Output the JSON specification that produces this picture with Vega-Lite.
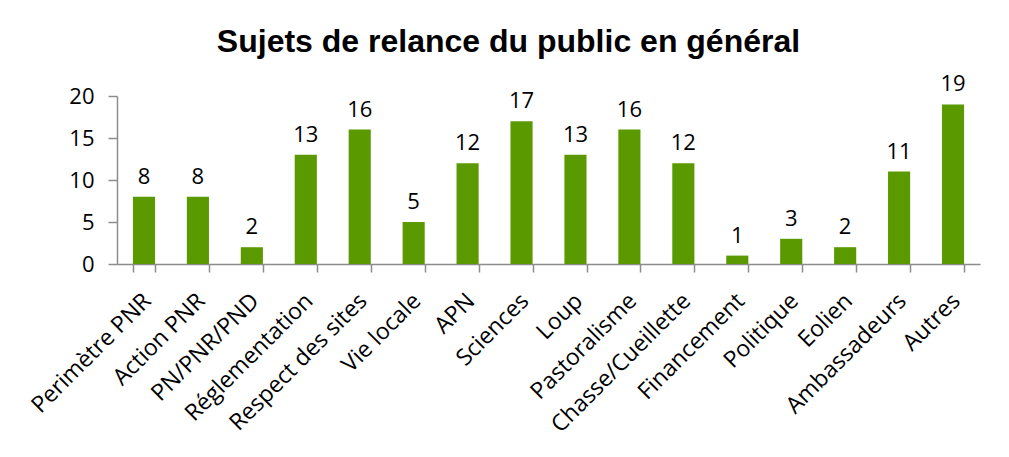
{
  "$schema": "https://vega.github.io/schema/vega-lite/v6.json",
  "autosize": "none",
  "width": 863,
  "height": 168,
  "padding": {"left": 117, "top": 96, "right": 29, "bottom": 193},
  "background": "white",
  "title": {
    "text": "Sujets de relance du public en général",
    "font": "Liberation Sans",
    "fontSize": 32,
    "fontWeight": "bold",
    "color": "black",
    "anchor": "middle",
    "dx": -40,
    "offset": 14
  },
  "data": {
    "values": [
      {"sujet": "Perimètre PNR", "n": 8},
      {"sujet": "Action PNR", "n": 8},
      {"sujet": "PN/PNR/PND", "n": 2},
      {"sujet": "Réglementation", "n": 13},
      {"sujet": "Respect des sites", "n": 16},
      {"sujet": "Vie locale", "n": 5},
      {"sujet": "APN", "n": 12},
      {"sujet": "Sciences", "n": 17},
      {"sujet": "Loup", "n": 13},
      {"sujet": "Pastoralisme", "n": 16},
      {"sujet": "Chasse/Cueillette", "n": 12},
      {"sujet": "Financement", "n": 1},
      {"sujet": "Politique", "n": 3},
      {"sujet": "Eolien", "n": 2},
      {"sujet": "Ambassadeurs", "n": 11},
      {"sujet": "Autres", "n": 19}
    ]
  },
  "encoding": {
    "x": {
      "field": "sujet",
      "type": "nominal",
      "sort": null,
      "scale": {"paddingInner": 0.59, "paddingOuter": 0.295},
      "axis": {
        "title": null,
        "labelAngle": -45,
        "labelAlign": "right",
        "labelBaseline": "middle",
        "labelFont": "Open Sans",
        "labelFontSize": 23,
        "labelColor": "black",
        "labelPadding": 25,
        "labelOffset": 3,
        "labelLimit": 0,
        "labelOverlap": false,
        "tickBand": "extent",
        "tickSize": 8,
        "tickColor": "#8c8c8c",
        "domainColor": "#8c8c8c",
        "domainWidth": 1.5,
        "tickWidth": 1.5
      }
    },
    "y": {
      "field": "n",
      "type": "quantitative",
      "scale": {"domain": [0, 20]},
      "axis": {
        "title": null,
        "values": [0, 5, 10, 15, 20],
        "grid": false,
        "labelFont": "Open Sans",
        "labelFontSize": 22,
        "labelColor": "black",
        "labelPadding": 14,
        "tickSize": 9,
        "tickColor": "#8c8c8c",
        "domainColor": "#8c8c8c",
        "domainWidth": 1.5,
        "tickWidth": 1.5
      }
    }
  },
  "layer": [
    {"mark": {"type": "bar", "color": "#5A9900"}},
    {
      "mark": {"type": "text", "baseline": "bottom", "dy": -8, "font": "Open Sans", "fontSize": 22, "color": "black"},
      "encoding": {"text": {"field": "n", "type": "quantitative"}}
    }
  ],
  "config": {"view": {"stroke": null}}
}
